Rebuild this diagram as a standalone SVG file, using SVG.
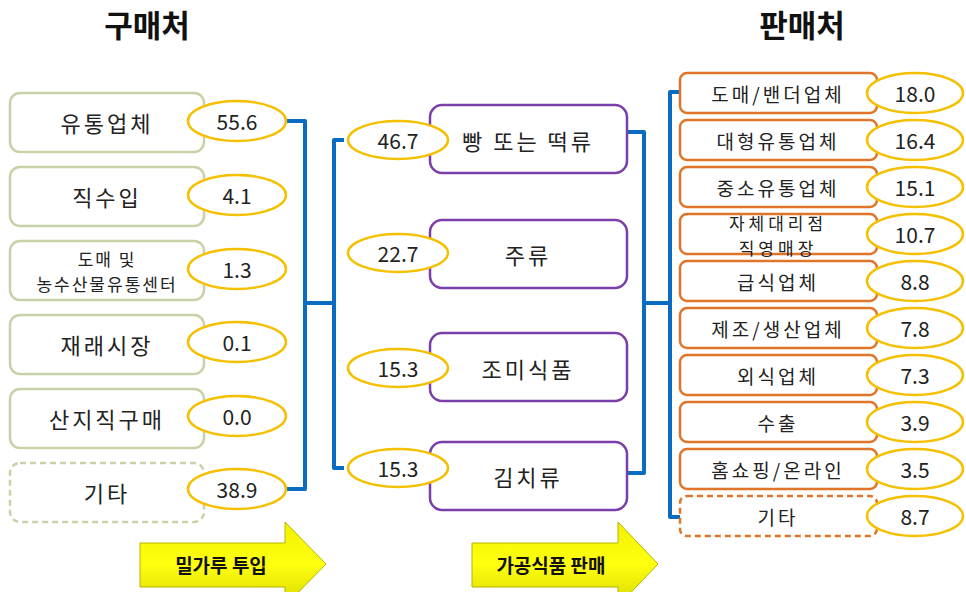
<svg xmlns="http://www.w3.org/2000/svg" width="966" height="592" viewBox="0 0 966 592">
<style>
text{font-family:"Noto Sans CJK KR","Noto Sans",sans-serif;fill:#222;text-anchor:middle;dominant-baseline:central}
.title{font-size:31px;font-weight:bold;fill:#111}
.lb{fill:#fff;stroke:#c8d2a8;stroke-width:2.5}
.mb{fill:#fff;stroke:#7a3fa8;stroke-width:2.5}
.rb{fill:#fff;stroke:#e0752a;stroke-width:2.5}
.dash{stroke-dasharray:6 4}
.el{fill:#fff;stroke:#f5c000;stroke-width:2.5}
.lt{font-size:22px;letter-spacing:3px}
.st{font-size:17px;letter-spacing:2px}
.rt{font-size:19px;letter-spacing:3px}
.rt2{font-size:17px;letter-spacing:4px}
.num{font-size:21px}
.con{fill:none;stroke:#0a6cc0;stroke-width:4;stroke-linejoin:round}
.arr{fill:url(#yg);stroke:#b8b400;stroke-width:1}
.at{font-size:19px;font-weight:bold;fill:#111}
</style>
<defs>
<linearGradient id="yg" x1="0" y1="0" x2="0" y2="1">
<stop offset="0" stop-color="#f0f000"/>
<stop offset="0.5" stop-color="#ffff10"/>
<stop offset="1" stop-color="#d8d800"/>
</linearGradient>
</defs>
<rect width="966" height="592" fill="#fff"/>
<text class="title" x="147" y="23">구매처</text>
<text class="title" x="802" y="23">판매처</text>

<g id="connectors">
<path class="con" d="M287,121 H305 V489 H287"/>
<path class="con" d="M305,303 H334"/>
<path class="con" d="M344,140 H334 V468 H344"/>
<path class="con" d="M627,132 H644 V473 H627"/>
<path class="con" d="M644,303 H670"/>
<path class="con" d="M681,92 H670 V517 H681"/>
</g>

<g id="buy1"><rect class="lb" x="10" y="93" width="194" height="59" rx="10"/><text class="lt" x="107" y="122">유통업체</text><ellipse class="el" cx="237" cy="121" rx="49" ry="20"/><text class="num" x="237" y="121">55.6</text></g>
<g id="buy2"><rect class="lb" x="10" y="167" width="194" height="59" rx="10"/><text class="lt" x="107" y="196">직수입</text><ellipse class="el" cx="237" cy="195" rx="49" ry="20"/><text class="num" x="237" y="195">4.1</text></g>
<g id="buy3"><rect class="lb" x="10" y="241" width="194" height="59" rx="10"/><text class="st" x="107" y="258"><tspan x="107" y="258">도매 및</tspan><tspan x="107" y="283">농수산물유통센터</tspan></text><ellipse class="el" cx="237" cy="269" rx="49" ry="20"/><text class="num" x="237" y="269">1.3</text></g>
<g id="buy4"><rect class="lb" x="10" y="315" width="194" height="59" rx="10"/><text class="lt" x="107" y="344">재래시장</text><ellipse class="el" cx="237" cy="342" rx="49" ry="20"/><text class="num" x="237" y="342">0.1</text></g>
<g id="buy5"><rect class="lb" x="10" y="389" width="194" height="59" rx="10"/><text class="lt" x="107" y="418">산지직구매</text><ellipse class="el" cx="237" cy="416" rx="49" ry="20"/><text class="num" x="237" y="416">0.0</text></g>
<g id="buy6"><rect class="lb dash" x="10" y="463" width="194" height="59" rx="10"/><text class="lt" x="107" y="492">기타</text><ellipse class="el" cx="237" cy="489" rx="49" ry="20"/><text class="num" x="237" y="489">38.9</text></g>

<g id="prod1"><rect class="mb" x="430" y="105" width="197" height="68" rx="12"/><text class="lt" x="528" y="140">빵 또는 떡류</text><ellipse class="el" cx="398" cy="140" rx="50" ry="19"/><text class="num" x="398" y="140">46.7</text></g>
<g id="prod2"><rect class="mb" x="430" y="220" width="197" height="68" rx="12"/><text class="lt" x="528" y="254">주류</text><ellipse class="el" cx="398" cy="253" rx="50" ry="19"/><text class="num" x="398" y="253">22.7</text></g>
<g id="prod3"><rect class="mb" x="430" y="333" width="197" height="68" rx="12"/><text class="lt" x="528" y="368">조미식품</text><ellipse class="el" cx="398" cy="368" rx="50" ry="19"/><text class="num" x="398" y="368">15.3</text></g>
<g id="prod4"><rect class="mb" x="430" y="442" width="197" height="68" rx="12"/><text class="lt" x="528" y="476">김치류</text><ellipse class="el" cx="398" cy="468" rx="50" ry="19"/><text class="num" x="398" y="468">15.3</text></g>

<g id="sell1"><rect class="rb" x="680" y="73" width="197" height="40" rx="7"/><text class="rt" x="778" y="93">도매/밴더업체</text><ellipse class="el" cx="915" cy="93" rx="48" ry="20"/><text class="num" x="915" y="93">18.0</text></g>
<g id="sell2"><rect class="rb" x="680" y="120" width="197" height="40" rx="7"/><text class="rt" x="778" y="140">대형유통업체</text><ellipse class="el" cx="915" cy="140" rx="48" ry="20"/><text class="num" x="915" y="140">16.4</text></g>
<g id="sell3"><rect class="rb" x="680" y="167" width="197" height="40" rx="7"/><text class="rt" x="778" y="187">중소유통업체</text><ellipse class="el" cx="915" cy="187" rx="48" ry="20"/><text class="num" x="915" y="187">15.1</text></g>
<g id="sell4"><rect class="rb" x="680" y="214" width="197" height="40" rx="7"/><text class="rt2" x="778" y="222"><tspan x="778" y="222">자체대리점</tspan><tspan x="778" y="246.5">직영매장</tspan></text><ellipse class="el" cx="915" cy="234" rx="48" ry="20"/><text class="num" x="915" y="234">10.7</text></g>
<g id="sell5"><rect class="rb" x="680" y="261" width="197" height="40" rx="7"/><text class="rt" x="778" y="281">급식업체</text><ellipse class="el" cx="915" cy="281" rx="48" ry="20"/><text class="num" x="915" y="281">8.8</text></g>
<g id="sell6"><rect class="rb" x="680" y="308" width="197" height="40" rx="7"/><text class="rt" x="778" y="328">제조/생산업체</text><ellipse class="el" cx="915" cy="328" rx="48" ry="20"/><text class="num" x="915" y="328">7.8</text></g>
<g id="sell7"><rect class="rb" x="680" y="355" width="197" height="40" rx="7"/><text class="rt" x="778" y="375">외식업체</text><ellipse class="el" cx="915" cy="375" rx="48" ry="20"/><text class="num" x="915" y="375">7.3</text></g>
<g id="sell8"><rect class="rb" x="680" y="402" width="197" height="40" rx="7"/><text class="rt" x="778" y="422">수출</text><ellipse class="el" cx="915" cy="422" rx="48" ry="20"/><text class="num" x="915" y="422">3.9</text></g>
<g id="sell9"><rect class="rb" x="680" y="449" width="197" height="40" rx="7"/><text class="rt" x="778" y="469">홈쇼핑/온라인</text><ellipse class="el" cx="915" cy="469" rx="48" ry="20"/><text class="num" x="915" y="469">3.5</text></g>
<g id="sell10"><rect class="rb dash" x="680" y="496" width="197" height="40" rx="7"/><text class="rt" x="778" y="516">기타</text><ellipse class="el" cx="915" cy="516" rx="48" ry="20"/><text class="num" x="915" y="516">8.7</text></g>

<g id="arrow1"><path class="arr" d="M140,543 H285 V522 L326,564 L285,606 V587 H140 Z"/><text class="at" x="221" y="564">밀가루 투입</text></g>
<g id="arrow2"><path class="arr" d="M472,543 H618 V522 L658,564 L618,606 V587 H472 Z"/><text class="at" x="551" y="564">가공식품 판매</text></g>
</svg>
